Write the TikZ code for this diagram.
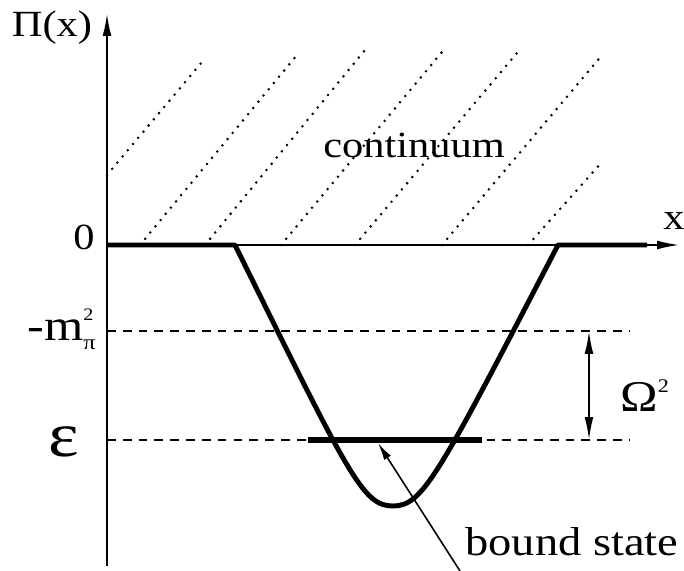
\documentclass[tikz,border=0pt]{standalone}
\usepackage{fontspec}
\setmainfont{Liberation Serif}[FakeStretch=1.15]
\usetikzlibrary{arrows.meta,positioning}

\begin{document}
\begin{tikzpicture}[x=0.02cm,y=-0.02cm,>={Latex[length=13pt,width=5pt]},
  lbl/.style={inner sep=0pt,font=\fontsize{21}{25}\selectfont},
  axis/.style={line width=1.3pt},
  well/.style={line width=2.8pt,line join=round},
  level/.style={line width=1.4pt,dash pattern=on 5pt off 4pt},
  hatch/.style={line width=1.6pt,line cap=round,dash pattern=on 0pt off 4.6pt}]
\useasboundingbox (0,0) rectangle (684,571);
% axes
\coordinate (O) at (107,245);
\coordinate (ytop) at (107,13);
\coordinate (ybot) at (107,566);
\coordinate (xend) at (680,245);
\draw[axis,->] (ybot) -- (ytop);
\draw[axis,->] (O) -- (xend);
\node[lbl,anchor=base] (Pi) at (52,37) {Π(x)};
\node[lbl,anchor=base] (xlab) at (674,230) {x};
\node[lbl,anchor=base] (zero) at (84,250) {0};
% continuum hatching
\foreach \xa/\ya/\xb/\yb in {107/175/202/62,140/245/297/55,205/245/365/50,281/245/442/52,355/245/517/53,442/245/603/54,528/245/602/162}
  \draw[hatch] (\xa,\ya) -- (\xb,\yb);
\node[lbl,anchor=base] (cont) at (414,158) {continuum};
% potential well
\coordinate (wl) at (235,245);
\coordinate (wmin) at (393,506);
\coordinate (wr) at (558,245);
\coordinate (wend) at (647,245);
\draw[well] (O) -- (wl) .. controls (350,478) and (363,506) .. (wmin)
  .. controls (423,506) and (438,476) .. (wr) -- (wend);
% levels
\coordinate (mL) at (107,331); \coordinate (mR) at (630,331);
\coordinate (eL) at (107,440); \coordinate (eR) at (630,440);
\draw[level] (mL) -- (mR);
\draw[level] (eL) -- (eR);
\node[lbl,font=\fontsize{25}{29}\selectfont,anchor=base east] (mpi) at (96,340)
  {-m\rlap{\raisebox{11pt}{\fontsize{10}{10}\selectfont 2}}\raisebox{-5.5pt}{\fontsize{12}{12}\selectfont π}};
\node[lbl,font=\fontsize{36}{40}\selectfont,anchor=base] (eps) at (64,457) {ε};
% bound state
\coordinate (bsL) at (308,440); \coordinate (bsR) at (482,440);
\draw[line width=3.5pt] (bsL) -- (bsR);
\coordinate (bstail) at (460,571); \coordinate (bstip) at (378,443);
\draw[-{Latex[length=10pt,width=4.5pt]},line width=0.9pt] (bstail) -- (bstip);
\node[lbl,font=\fontsize{23}{27}\selectfont,anchor=base west] (bs) at (465,555) {bound state};
% binding energy
\coordinate (gtop) at (589,331); \coordinate (gbot) at (589,440);
\draw[<->,line width=1.1pt] (gtop) -- (gbot);
\node[lbl,font=\fontsize{25}{29}\selectfont,anchor=base west] (om) at (620,412)
  {Ω\raisebox{11pt}{\fontsize{11}{11}\selectfont 2}};
\end{tikzpicture}
\end{document}
